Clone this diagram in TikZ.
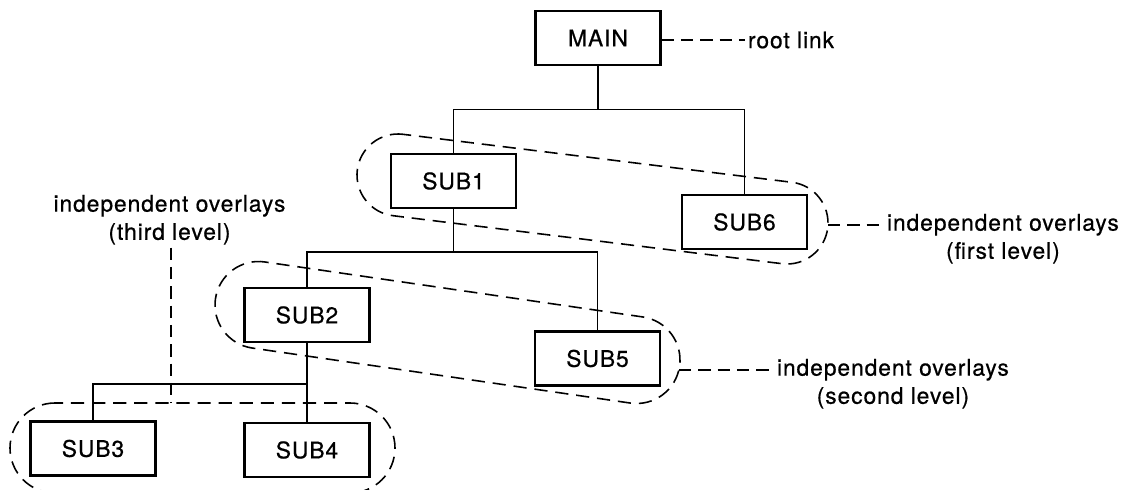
\documentclass[tikz,border=0pt]{standalone}
\usepackage{fontspec}
\setmainfont{TeX Gyre Heros}[LetterSpace=4,FakeBold=0.6]
\usetikzlibrary{calc}

\begin{document}
\begin{tikzpicture}[font=\fontsize{13}{16}\selectfont,
  box/.style={draw,line width=1.3pt,minimum width=2.5cm,minimum height=1.08cm,inner sep=0pt},
  lbl/.style={align=center,inner sep=1.5pt},
  tree/.style={line width=0.85pt},
  ovl/.style={line width=0.9pt,dash pattern=on 7.5pt off 4.5pt},
  lnk/.style={line width=0.9pt,dash pattern=on 7pt off 4pt}]
\useasboundingbox (0,0) rectangle (22.58,9.78);
% segments
\node[box] (main) at (11.96,9.02) {MAIN};
\node[box] (sub1) at (9.07,6.16) {SUB1};
\node[box] (sub6) at (14.89,5.34) {SUB6};
\node[box] (sub2) at (6.14,3.48) {SUB2};
\node[box] (sub5) at (11.95,2.61) {SUB5};
\node[box] (sub3) at (1.86,0.81) {SUB3};
\node[box] (sub4) at (6.14,0.78) {SUB4};
% tree
\draw[tree] (main.south) -- ++(0,-0.87) coordinate (j1) -| (sub1.north);
\draw[tree] (j1) -| (sub6.north);
\draw[tree] (sub1.south) -- ++(0,-0.86) coordinate (j2) -| (sub2.north);
\draw[tree] (j2) -| (sub5.north);
\draw[tree] (sub2.south) -- ++(0,-0.82) coordinate (j3) -| (sub3.north);
\draw[tree] (j3) -- (sub4.north);
% overlay regions (cap centres)
\coordinate (e1-l) at (7.96,6.28);  \coordinate (e1-r) at (15.74,5.32);
\coordinate (e2-l) at (5.17,3.68);  \coordinate (e2-r) at (12.73,2.58);
\coordinate (e3-l) at (1.1,0.82);   \coordinate (e3-r) at (7.0,0.82);
\foreach \e/\r in {e1/0.82,e2/0.87,e3/0.9}
  \draw[ovl] let \p1=($(\e-r)-(\e-l)$), \n1={atan2(\y1,\x1)} in
    ($(\e-l)+(\n1+90:\r)$) arc[start angle=\n1+90,delta angle=180,radius=\r]
    -- ($(\e-r)+(\n1-90:\r)$) arc[start angle=\n1-90,delta angle=180,radius=\r] -- cycle;
% labels
\node[lbl,anchor=west] (root) at (14.9,8.98) {root link};
\draw[lnk] (main.east |- root.west) -- (root.west);
\node[lbl,anchor=north west] (first) at (17.68,5.56) {independent overlays\\(first level)};
\coordinate (e1-o) at ($(e1-r)+(-3:0.82)$);
\draw[lnk] (e1-o) -- (e1-o -| first.west);
\node[lbl,anchor=north west] (second) at (15.48,2.66) {independent overlays\\(second level)};
\coordinate (e2-o) at ($(e2-r)+(-13:0.87)$);
\draw[lnk] (e2-o) -- (e2-o -| second.west);
\node[lbl,anchor=north] (third) at (3.39,5.94) {independent overlays\\(third level)};
\coordinate (e3-t) at ($(e3-l)+(0,0.9)$);
\draw[lnk] ([xshift=1pt]third.south) -- ([xshift=1pt]third.south |- e3-t);
\end{tikzpicture}
\end{document}
